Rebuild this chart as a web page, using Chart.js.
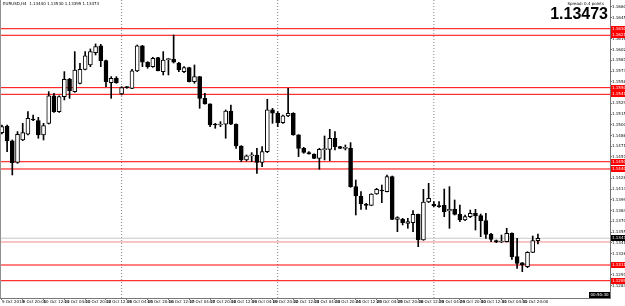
<!DOCTYPE html>
<html>
<head>
<meta charset="utf-8">
<script src="https://cdn.jsdelivr.net/npm/chart.js@4.4.1/dist/chart.umd.min.js"></script>
<style>
  html, body { margin: 0; padding: 0; background: #fff; }
  canvas { display: block; }
</style>
</head>
<body>
<canvas id="graficEurusd" width="625" height="306"></canvas>
<script>
// EURUSD H4, 9 Oct - 1 Nov 2018
const openPrices = [
  1.14900, 1.14990, 1.14788, 1.14499, 1.14801, 1.14878, 1.15085, 1.15062, 1.14869, 1.15026,
  1.15396, 1.15184, 1.15387, 1.15621, 1.15454, 1.15567, 1.15756, 1.15815, 1.15982, 1.16072,
  1.15873, 1.15576, 1.15635, 1.15423, 1.15515, 1.15499, 1.15734, 1.16072, 1.15851, 1.15792,
  1.15914, 1.15725, 1.15887, 1.15896, 1.15842, 1.15725, 1.15779, 1.15590, 1.15657, 1.15364,
  1.15288, 1.15013, 1.15004, 1.15013, 1.15193, 1.15013, 1.14720, 1.14531, 1.14585, 1.14598,
  1.14499, 1.14643, 1.15207, 1.15162, 1.15035, 1.15126, 1.15162, 1.14869, 1.14688, 1.14630,
  1.14612, 1.14553, 1.14670, 1.14675, 1.14824, 1.14711, 1.14688, 1.14688, 1.14170, 1.14044,
  1.13936, 1.13918, 1.14071, 1.14120, 1.14102, 1.14305, 1.13728, 1.13728, 1.13674, 1.13683,
  1.13796, 1.13449, 1.13963, 1.13931, 1.13913, 1.13918, 1.13841, 1.13863, 1.13796, 1.13719,
  1.13764, 1.13809, 1.13778, 1.13710, 1.13525, 1.13440, 1.13422, 1.13426, 1.13539, 1.13224,
  1.13142, 1.13088, 1.13282, 1.13440
];
const highPrices = [
  1.15004, 1.15004, 1.14801, 1.14914, 1.15026, 1.15184, 1.15139, 1.15107, 1.15026, 1.15454,
  1.15432, 1.15396, 1.15725, 1.15635, 1.15995, 1.15837, 1.15995, 1.16031, 1.16099, 1.16094,
  1.15880, 1.15657, 1.15657, 1.15522, 1.15522, 1.15756, 1.16085, 1.16080, 1.15860, 1.15919,
  1.15918, 1.15995, 1.15905, 1.16220, 1.15851, 1.15792, 1.15785, 1.15815, 1.15660, 1.15432,
  1.15290, 1.15026, 1.15049, 1.15207, 1.15274, 1.15018, 1.14725, 1.14598, 1.14630, 1.14688,
  1.14711, 1.15351, 1.15229, 1.15184, 1.15139, 1.15499, 1.15170, 1.14873, 1.14702, 1.14643,
  1.14615, 1.14688, 1.14855, 1.14945, 1.14914, 1.14715, 1.14733, 1.14765, 1.14260, 1.14102,
  1.13945, 1.14075, 1.14147, 1.14192, 1.14328, 1.14314, 1.13764, 1.13742, 1.13742, 1.13845,
  1.13800, 1.14134, 1.14215, 1.13967, 1.13967, 1.14138, 1.14170, 1.13990, 1.13922, 1.13787,
  1.13854, 1.13863, 1.13800, 1.13809, 1.13539, 1.13449, 1.13516, 1.13607, 1.13545, 1.13471,
  1.13146, 1.13291, 1.13503, 1.13530
];
const lowPrices = [
  1.14882, 1.14643, 1.14328, 1.14486, 1.14792, 1.14869, 1.15062, 1.14824, 1.14801, 1.15017,
  1.15175, 1.15175, 1.15342, 1.15364, 1.15445, 1.15558, 1.15747, 1.15792, 1.15950, 1.15792,
  1.15522, 1.15364, 1.15567, 1.15409, 1.15500, 1.15495, 1.15725, 1.15792, 1.15770, 1.15783,
  1.15734, 1.15680, 1.15680, 1.15842, 1.15725, 1.15711, 1.15585, 1.15567, 1.15229, 1.15284,
  1.14981, 1.14959, 1.14981, 1.14824, 1.15009, 1.14688, 1.14508, 1.14517, 1.14508, 1.14350,
  1.14441, 1.14630, 1.15026, 1.14981, 1.15026, 1.15116, 1.14865, 1.14576, 1.14621, 1.14608,
  1.14549, 1.14405, 1.14531, 1.14522, 1.14666, 1.14684, 1.14666, 1.14161, 1.13787, 1.13863,
  1.13863, 1.13914, 1.14066, 1.13954, 1.14098, 1.13724, 1.13562, 1.13652, 1.13607, 1.13562,
  1.13359, 1.13445, 1.13954, 1.13899, 1.13890, 1.13764, 1.13607, 1.13787, 1.13697, 1.13710,
  1.13751, 1.13584, 1.13494, 1.13471, 1.13426, 1.13413, 1.13413, 1.13422, 1.13187, 1.13066,
  1.13021, 1.13075, 1.13278, 1.13395
];
const closePrices = [
  1.14981, 1.14788, 1.14495, 1.14878, 1.14900, 1.15094, 1.15071, 1.14869, 1.14995, 1.15396,
  1.15184, 1.15387, 1.15621, 1.15468, 1.15747, 1.15756, 1.15937, 1.15995, 1.16063, 1.15873,
  1.15590, 1.15635, 1.15576, 1.15508, 1.15508, 1.15734, 1.16072, 1.15851, 1.15792, 1.15905,
  1.15738, 1.15882, 1.15896, 1.15851, 1.15747, 1.15779, 1.15590, 1.15657, 1.15364, 1.15288,
  1.15004, 1.15004, 1.15009, 1.15193, 1.15013, 1.14720, 1.14531, 1.14585, 1.14598, 1.14499,
  1.14643, 1.15207, 1.15162, 1.15035, 1.15126, 1.15162, 1.14869, 1.14688, 1.14634, 1.14612,
  1.14553, 1.14675, 1.14675, 1.14824, 1.14711, 1.14688, 1.14690, 1.14170, 1.14044, 1.13936,
  1.13918, 1.14071, 1.14134, 1.14111, 1.14305, 1.13728, 1.13751, 1.13683, 1.13697, 1.13796,
  1.13449, 1.13963, 1.14012, 1.13908, 1.13899, 1.13832, 1.13863, 1.13796, 1.13719, 1.13764,
  1.13809, 1.13773, 1.13710, 1.13525, 1.13458, 1.13422, 1.13431, 1.13539, 1.13224, 1.13133,
  1.13111, 1.13282, 1.13440, 1.13473
];

// etichete axa timp (una la 4 bare)
const timeLabels = [
  '9 Oct 2018', '9 Oct 20:00', '10 Oct 12:00', '11 Oct 04:00', '11 Oct 20:00', '12 Oct 12:00',
  '15 Oct 04:00', '15 Oct 20:00', '16 Oct 12:00', '17 Oct 04:00', '17 Oct 20:00', '18 Oct 12:00',
  '19 Oct 04:00', '19 Oct 20:00', '22 Oct 12:00', '23 Oct 04:00', '23 Oct 20:00', '24 Oct 12:00',
  '25 Oct 04:00', '25 Oct 20:00', '26 Oct 12:00', '29 Oct 04:00', '29 Oct 20:00', '30 Oct 12:00',
  '31 Oct 04:00', '31 Oct 20:00'
];
// etichete axa pret
const priceTicks = [
  1.12831, 1.12976, 1.13121, 1.13266, 1.13411, 1.13556, 1.13701, 1.13846, 1.13991, 1.14136,
  1.14281, 1.14426, 1.14571, 1.14716, 1.14861, 1.15006, 1.15151, 1.15296, 1.15441, 1.15586,
  1.15731, 1.15876, 1.16021, 1.16166, 1.16311, 1.16456, 1.16601
];
// nivele orizontale (suport / rezistenta)
const levelPrices = [1.16305, 1.16216, 1.15508, 1.15418, 1.14507, 1.14409, 1.13422, 1.13111, 1.12899];
const levelHasLabel = [true, true, true, true, true, true, false, true, true];
// separatoare de saptamana (indexul barei)
const weekStartBars = [23, 53, 83];
const symbolName = 'EURUSD,H4';
const spreadText = 'Spread: 0.4 points';
const timerText = '00:50:30';

const Y_MIN = 1.12665, Y_MAX = 1.16693;
const X_MIN = -0.365, X_MAX = 116.85;

const isUp = openPrices.map((o, i) => closePrices[i] >= o);
const lastClose = closePrices[closePrices.length - 1];

const datasets = [];

// liniile rosii
levelPrices.forEach((v, i) => {
    datasets.push({
        type: 'line',
        data: [{ x: X_MIN, y: v }, { x: X_MAX, y: v }],
        borderColor: levelHasLabel[i] ? '#ff0000' : '#f08a8a',
        borderWidth: 1,
        pointRadius: 0,
        order: 10
    });
});
// linia Bid
datasets.push({
    type: 'line',
    data: [{ x: X_MIN, y: lastClose }, { x: X_MAX, y: lastClose }],
    borderColor: '#c8c8c8',
    borderWidth: 1,
    pointRadius: 0,
    order: 11
});
// separatoare punctate
weekStartBars.forEach(b => {
    datasets.push({
        type: 'line',
        data: [{ x: b, y: Y_MIN }, { x: b, y: Y_MAX }],
        borderColor: '#808080',
        borderWidth: 1,
        borderDash: [1, 2],
        pointRadius: 0,
        order: 12
    });
});
// fitilele
datasets.push({
    type: 'bar',
    data: highPrices.map((h, i) => ({ x: i, y: [lowPrices[i], h] })),
    backgroundColor: '#000',
    barThickness: 1,
    grouped: false,
    order: 2
});
// corpurile lumanarilor
datasets.push({
    type: 'bar',
    data: openPrices.map((o, i) => ({ x: i, y: [o, closePrices[i]] })),
    backgroundColor: isUp.map(u => u ? '#ffffff' : '#000000'),
    borderColor: '#000',
    borderWidth: 1,
    borderSkipped: false,
    barThickness: 4,
    minBarLength: 1,
    grouped: false,
    order: 1
});

// texte si etichete colorate pe axa de pret
const overlay = {
    id: 'overlay',
    afterDraw(chart) {
        const c = chart.ctx;
        const ys = chart.scales.y;
        const area = chart.chartArea;
        c.save();
        c.strokeStyle = '#909090';
        c.lineWidth = 1;
        c.beginPath();
        c.moveTo(0.5, 0);
        c.lineTo(0.5, area.bottom);
        c.stroke();

        c.font = '4px "DejaVu Sans"';
        c.textBaseline = 'middle';
        levelPrices.forEach((v, i) => {
            if (!levelHasLabel[i]) return;
            const py = Math.round(ys.getPixelForValue(v));
            c.fillStyle = '#ff0000';
            c.fillRect(area.right + 1, py - 3, 14, 6);
            c.fillStyle = '#fff';
            c.textAlign = 'left';
            c.fillText(v.toFixed(5), area.right + 2, py);
        });
        const pb = Math.round(ys.getPixelForValue(lastClose));
        c.fillStyle = '#000';
        c.fillRect(area.right + 1, pb - 3, 14, 6);
        c.fillStyle = '#fff';
        c.fillText(lastClose.toFixed(5), area.right + 2, pb);

        // ceas
        c.fillStyle = '#000';
        c.fillRect(area.right - 21, area.bottom - 6, 21, 6);
        c.fillStyle = '#fff';
        c.textAlign = 'center';
        c.fillText(timerText, area.right - 10.5, area.bottom - 3);

        // titlu
        const n = closePrices.length - 1;
        c.fillStyle = '#000';
        c.textAlign = 'left';
        c.fillText(symbolName + '  ' + openPrices[n].toFixed(5) + ' ' + highPrices[n].toFixed(5) + ' ' +
            lowPrices[n].toFixed(5) + ' ' + closePrices[n].toFixed(5), 3, 4);
        c.textAlign = 'right';
        c.fillText(spreadText, area.right - 6, 3.5);

        c.font = 'bold 16px "Liberation Sans"';
        c.textBaseline = 'alphabetic';
        c.fillText(lastClose.toFixed(5), area.right - 2, 18.5);
        c.restore();
    }
};

new Chart(document.getElementById('graficEurusd').getContext('2d'), {
    type: 'bar',
    data: { datasets: datasets },
    plugins: [overlay],
    options: {
        responsive: false,
        animation: false,
        layout: { padding: 0 },
        plugins: { legend: { display: false }, tooltip: { enabled: false } },
        scales: {
            x: {
                type: 'linear',
                min: X_MIN,
                max: X_MAX,
                offset: false,
                grid: { drawOnChartArea: false, tickLength: 2, color: '#777', offset: false },
                border: { display: true, color: '#777' },
                afterBuildTicks: s => { s.ticks = timeLabels.map((t, i) => ({ value: i * 4 })); },
                afterFit: s => { s.height = 8; s.paddingLeft = 0; s.paddingRight = 0; },
                ticks: {
                    autoSkip: false, maxRotation: 0, minRotation: 0, align: 'start', padding: 0,
                    color: '#000', font: { size: 4, family: 'DejaVu Sans' },
                    callback: (v, i) => timeLabels[i]
                }
            },
            y: {
                position: 'right',
                min: Y_MIN,
                max: Y_MAX,
                beginAtZero: false,
                grid: { drawOnChartArea: false, tickLength: 2, color: '#777' },
                border: { display: true, color: '#777' },
                afterBuildTicks: s => { s.ticks = priceTicks.map(v => ({ value: v })); },
                afterFit: s => { s.width = 15; s.paddingTop = 0; s.paddingBottom = 0; },
                ticks: {
                    padding: 0, color: '#000', font: { size: 4, family: 'DejaVu Sans' },
                    callback: v => v.toFixed(5)
                }
            }
        }
    }
});
</script>
</body>
</html>
